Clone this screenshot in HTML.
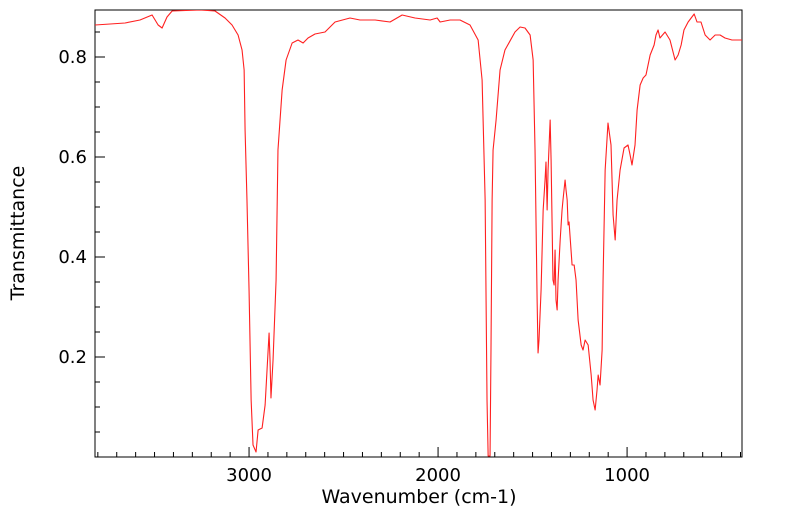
<!DOCTYPE html>
<html><head><meta charset="utf-8">
<style>
html,body{margin:0;padding:0;background:#fff;}
svg{display:block;font-family:"DejaVu Sans","Liberation Sans",sans-serif;}
</style></head>
<body>
<svg id="chart" width="799" height="516" xmlns="http://www.w3.org/2000/svg">
<defs><clipPath id="clip"><rect x="95" y="10" width="647" height="447"/></clipPath></defs>
<rect x="95" y="10" width="647" height="447" fill="none" stroke="#000" stroke-width="1"/>
<g id="ticks"></g>
<polyline id="line" clip-path="url(#clip)" fill="none" stroke="#ff2020" stroke-width="1.1" stroke-linejoin="round"/>
<text x="419" y="503" text-anchor="middle" font-size="19">Wavenumber (cm-1)</text>
<text x="24" y="233" text-anchor="middle" font-size="19" transform="rotate(-90 24 233)">Transmittance</text>
</svg>
<script>
const wavenumbers=[3815,3735,3656,3577,3513,3481,3460,3434,3407,3259,3180,3127,3090,3058,3037,3026,3021,3011,3000,2989,2979,2963,2952,2931,2915,2899,2894,2889,2884,2873,2857,2847,2825,2804,2772,2741,2714,2688,2651,2598,2545,2466,2413,2333,2254,2190,2122,2042,2005,1989,1936,1884,1831,1788,1767,1751,1741,1735,1725,1720,1714,1709,1693,1672,1646,1593,1566,1540,1513,1497,1487,1476,1471,1466,1455,1444,1434,1429,1423,1418,1407,1402,1392,1386,1381,1376,1370,1365,1354,1344,1339,1328,1323,1317,1312,1307,1291,1280,1270,1259,1243,1233,1222,1206,1190,1180,1169,1159,1153,1143,1132,1127,1116,1101,1085,1074,1063,1053,1037,1016,995,984,974,958,947,931,915,900,878,857,847,836,826,799,773,746,730,714,699,677,661,645,630,609,587,561,534,508,482,445,392];
const transmittance=[.864,.866,.868,.874,.884,.864,.858,.88,.892,.894,.892,.878,.864,.844,.814,.774,.654,.514,.334,.114,.024,.01,.054,.058,.104,.214,.248,.194,.118,.194,.354,.614,.734,.794,.828,.834,.828,.838,.846,.85,.87,.878,.874,.874,.87,.884,.878,.874,.878,.87,.874,.874,.864,.834,.754,.514,.114,.002,.002,.214,.514,.614,.674,.774,.814,.85,.86,.858,.844,.794,.614,.314,.208,.234,.334,.494,.554,.59,.494,.574,.674,.594,.354,.344,.414,.314,.294,.354,.434,.494,.514,.554,.534,.514,.464,.47,.384,.384,.354,.274,.224,.214,.234,.224,.164,.114,.094,.134,.164,.144,.214,.354,.574,.668,.624,.484,.434,.514,.574,.618,.624,.604,.584,.624,.694,.744,.758,.764,.804,.824,.844,.854,.838,.85,.834,.794,.804,.824,.854,.87,.878,.886,.87,.87,.844,.834,.844,.844,.838,.834,.834];
const xTickLabels=[3000,2000,1000];
const yTickLabels=[0.2,0.4,0.6,0.8];
const X0=95,X1=742,Y0=10,Y1=457;
const xMax=3815,xMin=392,yMin=0,yMax=0.894;
function xs(w){return X0+(xMax-w)/(xMax-xMin)*(X1-X0);}
function ys(t){return Y1-(t-yMin)/(yMax-yMin)*(Y1-Y0);}
const NS="http://www.w3.org/2000/svg";
const line=document.getElementById('line');
line.setAttribute('points',wavenumbers.map((w,i)=>xs(w).toFixed(2)+','+ys(transmittance[i]).toFixed(2)).join(' '));
const g=document.getElementById('ticks');
function mk(tag,attrs){const e=document.createElementNS(NS,tag);for(const k in attrs)e.setAttribute(k,attrs[k]);g.appendChild(e);return e;}
for(let w=3800;w>=400;w-=100){
  const x=xs(w);const major=w%1000===0;
  const t=mk('line',{x1:x,x2:x,y1:Y1,y2:Y1-(major?10:5),stroke:'#000'});
  
  
}
xTickLabels.forEach(v=>{
  const t=mk('text',{x:xs(v),y:Y1+24,'text-anchor':'middle','font-size':'18'});
  t.textContent=v;
  
  
});
for(let k=1;k<=17;k++){
  const v=k*0.05;const y=ys(v);const major=k%4===0;
  const t=mk('line',{x1:X0,x2:X0+(major?10:5),y1:y,y2:y,stroke:'#000'});
  
  
}
yTickLabels.forEach(v=>{
  const t=mk('text',{x:X0-8,y:ys(v)+6,'text-anchor':'end','font-size':'18'});
  t.textContent=v.toFixed(1);
  
  
});
</script>
</body></html>
